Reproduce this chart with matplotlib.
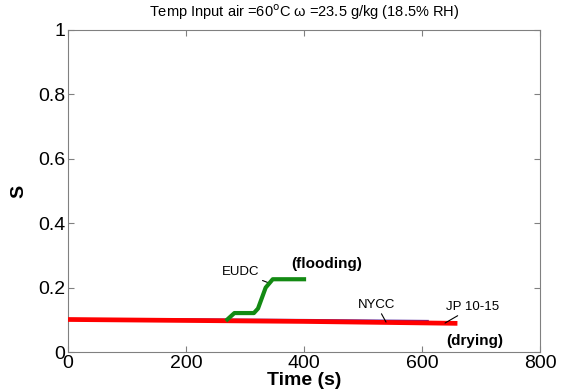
import numpy as np
import matplotlib
matplotlib.use('Agg')
import matplotlib.pyplot as plt

plt.rcParams['font.family'] = ['Liberation Sans', 'DejaVu Sans']

# EUDC (flooding)
t_eudc = [270, 282, 315, 322, 335, 347, 400]
s_eudc = [0.101, 0.121, 0.121, 0.135, 0.200, 0.226, 0.226]
# NYCC
t_nycc = [0, 200, 400, 610]
s_nycc = [0.103, 0.102, 0.100, 0.097]
# JP 10-15 (drying)
t_jp = [0, 200, 400, 660]
s_jp = [0.101, 0.098, 0.095, 0.089]

xticks = [0, 200, 400, 600, 800]
yticks = [0, 0.2, 0.4, 0.6, 0.8, 1]
ytick_labels = ['0', '0.2', '0.4', '0.6', '0.8', '1']

fig = plt.figure(figsize=(5.65, 3.91), dpi=100)
ax = fig.add_axes([0.1204, 0.0997, 0.8354, 0.8236])

ax.plot(t_nycc, s_nycc, color='#5a2ca0', lw=1.3, zorder=2)
ax.plot(t_jp, s_jp, color='#ff0000', lw=3.4, solid_capstyle='butt', zorder=3)
ax.plot(t_eudc, s_eudc, color='#138a13', lw=3.0, zorder=4)

ax.set_xlim(0, 800)
ax.set_ylim(0, 1)
ax.set_xticks(xticks)
ax.set_yticks(yticks)
ax.set_yticklabels(ytick_labels)
ax.tick_params(direction='in', top=True, right=True, length=4, labelsize=14, color='#808080', pad=2)
for sp in ax.spines.values():
    sp.set_color('#808080')

ax.set_xlabel('Time (s)', fontsize=14, fontweight='bold', labelpad=0)
ax.set_ylabel('S', fontsize=14, fontweight='bold', labelpad=8)
ax.set_title('Temp Input air =60$^{\\rm o}$C ω =23.5 g/kg (18.5% RH)', fontsize=10.5, pad=9)

# annotations
line_kw = dict(arrowstyle='-', lw=0.8, color='k', shrinkA=0, shrinkB=0)
ax.annotate('EUDC', xy=(341, 0.214), xytext=(325, 0.248), fontsize=9.5,
            ha='right', va='center', arrowprops=line_kw)
ax.text(439, 0.273, '(flooding)', fontsize=11, fontweight='bold', ha='center', va='center')
ax.annotate('NYCC', xy=(539, 0.093), xytext=(523, 0.146), fontsize=9.5,
            ha='center', va='center', arrowprops=line_kw)
ax.annotate('JP 10-15', xy=(639, 0.09), xytext=(686, 0.14), fontsize=9.5,
            ha='center', va='center', arrowprops=line_kw)
ax.text(690, 0.034, '(drying)', fontsize=11, fontweight='bold', ha='center', va='center')

fig.savefig('out.png', dpi=100)
